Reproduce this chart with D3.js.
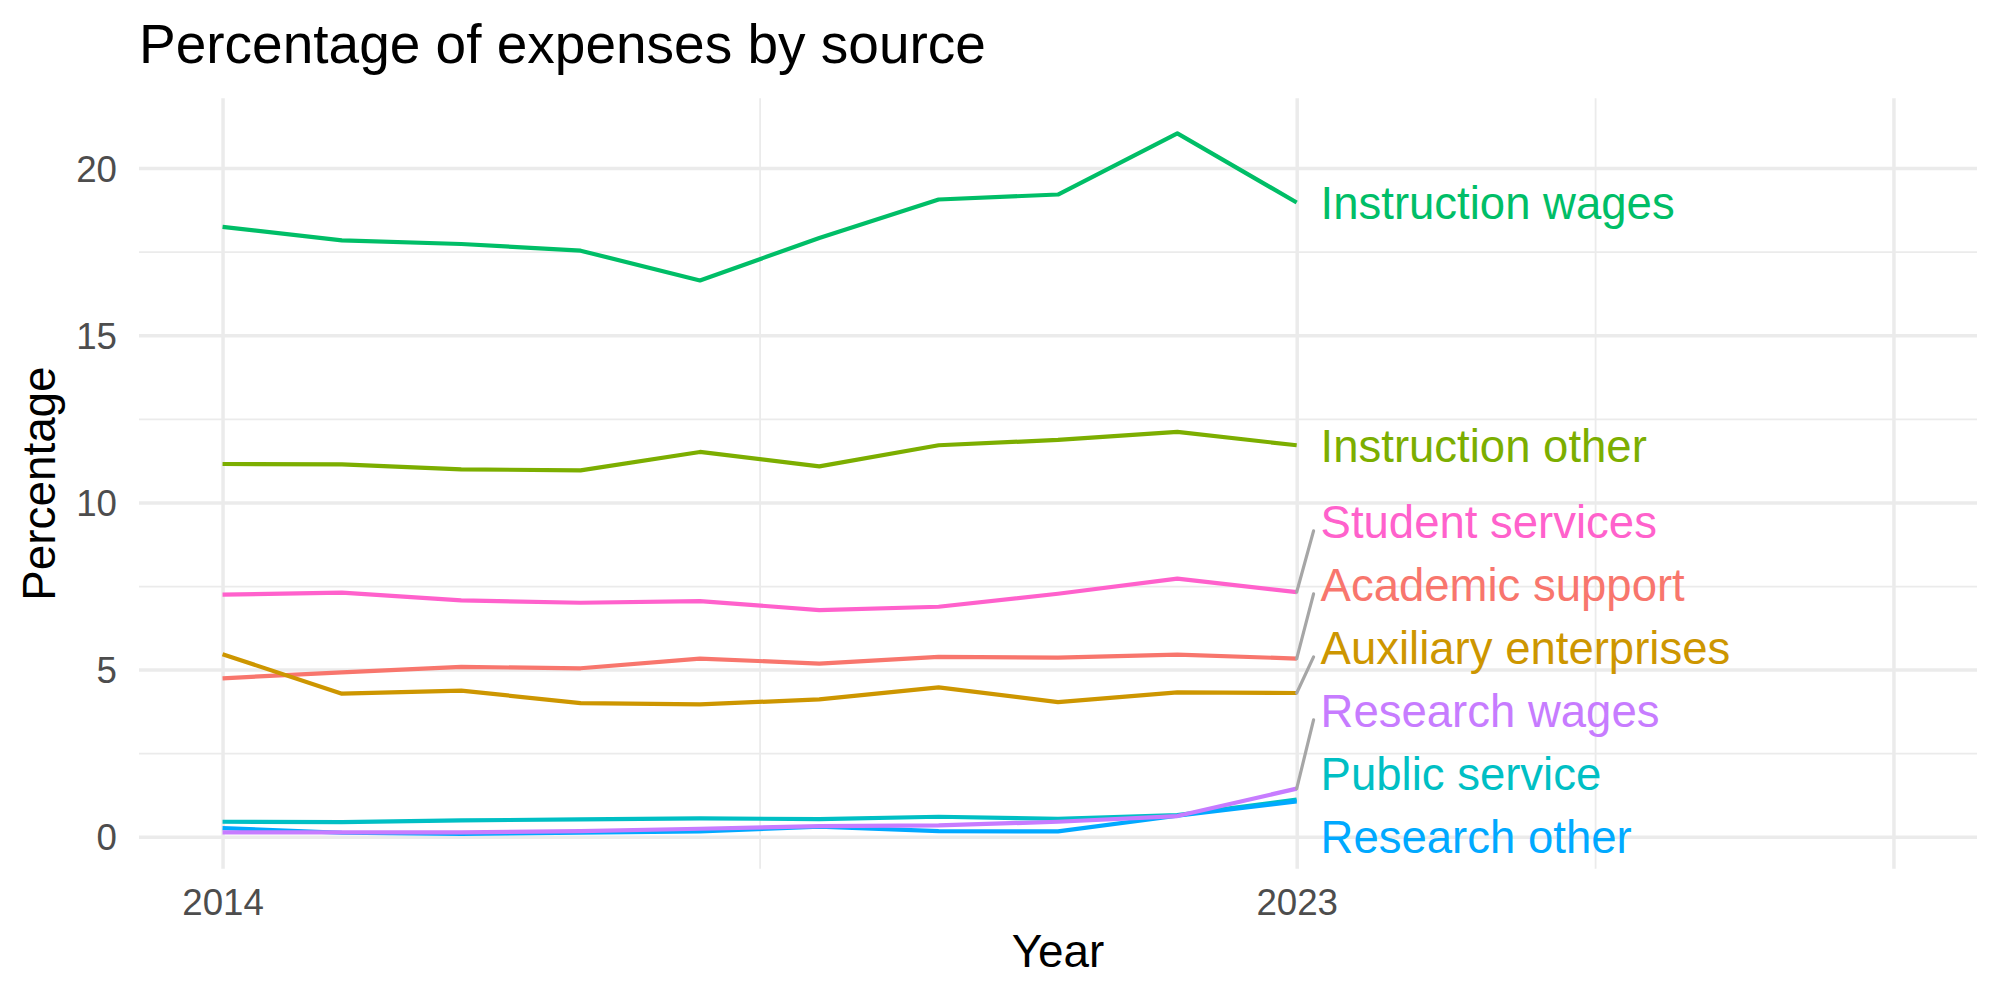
<!DOCTYPE html>
<html>
<head>
<meta charset="utf-8">
<script src="https://cdn.jsdelivr.net/npm/d3@7"></script>
<style>
  body { margin: 0; background: #ffffff; }
  text { font-family: "Liberation Sans", Arial, Helvetica, sans-serif; }
</style>
</head>
<body>
<svg id="chart" width="2000" height="1000"></svg>
<script>
// ---------------- data ----------------
const years = [2014, 2015, 2016, 2017, 2018, 2019, 2020, 2021, 2022, 2023];

const categories = [
  "Academic support", "Auxiliary enterprises", "Instruction other", "Instruction wages",
  "Public service", "Research other", "Research wages", "Student services"
];

const academicSupport      = [4.74, 4.92, 5.08, 5.04, 5.33, 5.18, 5.38, 5.36, 5.45, 5.33];
const auxiliaryEnterprises = [5.46, 4.28, 4.37, 4.00, 3.96, 4.11, 4.47, 4.03, 4.32, 4.30];
const instructionOther     = [11.15, 11.14, 10.99, 10.96, 11.51, 11.08, 11.71, 11.87, 12.11, 11.71];
const instructionWages     = [18.24, 17.84, 17.73, 17.53, 16.64, 17.91, 19.06, 19.21, 21.04, 18.97];
const publicService        = [0.45, 0.44, 0.49, 0.52, 0.55, 0.53, 0.60, 0.54, 0.65, 1.11];
const researchOther        = [0.26, 0.12, 0.09, 0.12, 0.16, 0.30, 0.17, 0.16, 0.63, 1.06];
const researchWages        = [0.13, 0.13, 0.13, 0.17, 0.24, 0.32, 0.34, 0.45, 0.62, 1.44];
const studentServices      = [7.24, 7.30, 7.07, 7.00, 7.05, 6.78, 6.88, 7.27, 7.72, 7.32];

const seriesValues = [academicSupport, auxiliaryEnterprises, instructionOther, instructionWages,
                      publicService, researchOther, researchWages, studentServices];

const xLimits = [2014, 2028];
const xTicks = [2014, 2023, 2028];
const xTickLabels = ["2014", "2023", ""];
const yTicks = [0, 5, 10, 15, 20];

const titleText = "Percentage of expenses by source";
const xTitle = "Year";
const yTitle = "Percentage";

// ---------------- styles / layout ----------------
const colors = ["#F8766D", "#CD9600", "#7CAE00", "#00BE67", "#00BFC4", "#00A9FF", "#C77CFF", "#FF61CC"];
const panel = { left: 139, right: 1977, top: 98.3, bottom: 868.8 };
const gridColor = "#ebebeb";
const tickFont = 36.7, axisTitleFont = 45.8, titleFont = 55, labelFont = 45.5;

const series = categories.map((name, i) => ({
  name, color: colors[i],
  values: years.map((yr, j) => ({ year: yr, value: seriesValues[i][j] }))
}));

// ---------------- scales ----------------
function expand(lim, mult) { const d = lim[1] - lim[0]; return [lim[0] - d * mult, lim[1] + d * mult]; }
const allVals = seriesValues.flat();
const x = d3.scaleLinear().domain(expand(xLimits, 0.05)).range([panel.left, panel.right]);
const y = d3.scaleLinear().domain(expand(d3.extent(allVals), 0.05)).range([panel.bottom, panel.top]);

const svg = d3.select("#chart");
svg.append("rect").attr("width", 2000).attr("height", 1000).attr("fill", "#ffffff");

// minor breaks = midpoints of majors
function mids(t) { const m = []; for (let i = 0; i < t.length - 1; i++) m.push((t[i] + t[i + 1]) / 2); return m; }
const yMinor = mids(yTicks), xMinor = mids(xTicks);

const W = panel.right - panel.left, H = panel.bottom - panel.top;

function grid(axisGen, ticks, width, transform) {
  const g = svg.append("g").attr("transform", transform)
    .call(axisGen.tickValues(ticks).tickFormat(""));
  g.select(".domain").remove();
  g.selectAll(".tick line").attr("stroke", gridColor).attr("stroke-width", width);
  return g;
}
grid(d3.axisLeft(y).tickSize(-W), yMinor, 1.8, `translate(${panel.left},0)`);
grid(d3.axisBottom(x).tickSize(-H), xMinor, 1.8, `translate(0,${panel.bottom})`);
grid(d3.axisLeft(y).tickSize(-W), yTicks, 3.5, `translate(${panel.left},0)`);
grid(d3.axisBottom(x).tickSize(-H), xTicks, 3.5, `translate(0,${panel.bottom})`);

// axis labels
const yAxis = svg.append("g").attr("transform", `translate(${panel.left},0)`)
  .call(d3.axisLeft(y).tickValues(yTicks).tickSize(0).tickPadding(22).tickFormat(d3.format("d")));
yAxis.select(".domain").remove();
yAxis.selectAll("text").attr("font-size", tickFont).attr("fill", "#4d4d4d")
  .attr("dy", "0.358em").style("font-family", '"Liberation Sans", Arial, sans-serif');

const xAxis = svg.append("g").attr("transform", `translate(0,${panel.bottom})`)
  .call(d3.axisBottom(x).tickValues(xTicks).tickSize(0).tickPadding(19.7)
    .tickFormat((d, i) => xTickLabels[i]));
xAxis.select(".domain").remove();
xAxis.selectAll("text").attr("font-size", tickFont).attr("fill", "#4d4d4d")
  .style("font-family", '"Liberation Sans", Arial, sans-serif');

// titles
svg.append("text").attr("x", panel.left).attr("y", 63).attr("font-size", titleFont)
  .attr("fill", "#000").text(titleText);
svg.append("text").attr("x", (panel.left + panel.right) / 2).attr("y", 966.5)
  .attr("text-anchor", "middle").attr("font-size", axisTitleFont).attr("fill", "#000").text(xTitle);
svg.append("text").attr("transform", `translate(55,${(panel.top + panel.bottom) / 2}) rotate(-90)`)
  .attr("text-anchor", "middle").attr("font-size", axisTitleFont).attr("fill", "#000").text(yTitle);

// lines
const line = d3.line().x(d => x(d.year)).y(d => y(d.value));
svg.append("g").selectAll("path").data(series).join("path")
  .attr("d", d => line(d.values))
  .attr("fill", "none").attr("stroke", d => d.color)
  .attr("stroke-width", 4.2).attr("stroke-linejoin", "round").attr("stroke-linecap", "butt");

// ---------------- repelled end labels ----------------
const lastYear = years[years.length - 1];
const labelX = x(lastYear + 0.2);
const gap = labelFont * 1.385;
const minC = panel.top + labelFont * 0.7, maxC = panel.bottom - labelFont * 0.7;

const items = series.map(s => ({ s, target: y(s.values[s.values.length - 1].value) }))
  .sort((a, b) => a.target - b.target);
let clusters = [];
function place(c) {
  const n = c.items.length;
  let top = d3.mean(c.items, d => d.target) - (n - 1) * gap / 2;
  top = Math.max(minC, Math.min(top, maxC - (n - 1) * gap));
  c.top = top;
}
items.forEach(it => {
  const c = { items: [it] }; place(c); clusters.push(c);
  while (clusters.length > 1) {
    const a = clusters[clusters.length - 2], b = clusters[clusters.length - 1];
    if (a.top + a.items.length * gap > b.top) {
      const m = { items: a.items.concat(b.items) }; place(m);
      clusters.splice(clusters.length - 2, 2, m);
    } else break;
  }
});
clusters.forEach(c => c.items.forEach((it, i) => { it.pos = c.top + i * gap; }));

const segG = svg.append("g");
const labG = svg.append("g");
items.forEach(it => {
  const px = x(lastYear), py = it.target;
  const ex = labelX - 7;
  const ey = Math.max(it.pos - 9, Math.min(py, it.pos + 9));
  if (Math.hypot(ex - px, ey - py) > 35) {
    segG.append("line").attr("x1", px).attr("y1", py).attr("x2", ex).attr("y2", ey)
      .attr("stroke", "#a6a6a6").attr("stroke-width", 3.2).attr("stroke-linecap", "round");
  }
});
series.forEach(s => {
  const it = items.find(d => d.s === s);
  labG.append("text").attr("x", labelX).attr("y", it.pos + labelFont * 0.358)
    .attr("font-size", labelFont).attr("fill", s.color).text(s.name);
});
</script>
</body>
</html>
